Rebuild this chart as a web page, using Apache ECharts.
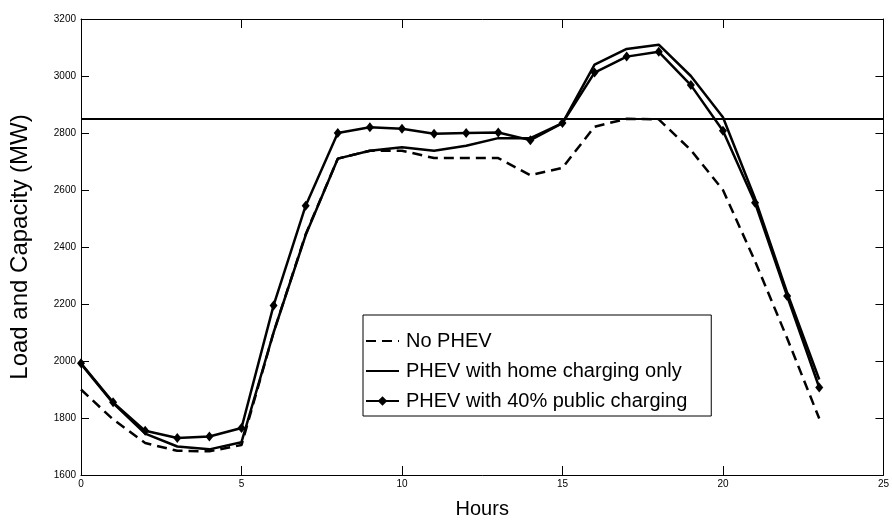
<!DOCTYPE html>
<html>
<head>
<meta charset="utf-8">
<script src="https://cdn.jsdelivr.net/npm/echarts@6/dist/echarts.min.js"></script>
<style>
  html, body { margin: 0; padding: 0; background: #fff; }
  #chart { width: 892px; height: 524px; }
</style>
</head>
<body>
<div id="chart"></div>
<script>
// Hourly system load (MW) for three charging scenarios
const hours = [0,1,2,3,4,5,6,7,8,9,10,11,12,13,14,15,16,17,18,19,20,21,22,23];
const noPhev = [1900,1795,1712,1685,1683,1705,2100,2445,2710,2738,2738,2712,2712,2712,2652,2678,2822,2850,2848,2740,2600,2350,2080,1798];
const homeCharging = [1990,1852,1745,1700,1690,1715,2100,2442,2710,2738,2750,2738,2755,2782,2782,2835,3040,3095,3110,3000,2855,2570,2240,1935];
const publicCharging = [1992,1855,1755,1730,1735,1765,2195,2545,2800,2820,2815,2797,2800,2802,2775,2835,3012,3068,3085,2968,2808,2555,2228,1907];
// Generation capacity limit (MW)
const capacity = 2850;

const seriesNames = ['No PHEV', 'PHEV with home charging only', 'PHEV with 40% public charging'];
const pairs = vals => hours.map((h, i) => [h, vals[i]]);

const tickFont = { fontFamily: 'Liberation Sans, Arial, sans-serif', fontSize: 10, color: '#000', formatter: v => String(v) };
const axisLine = { show: true, onZero: false, lineStyle: { color: '#000', width: 1 } };

const chart = echarts.init(document.getElementById('chart'), null, { renderer: 'canvas' });
chart.setOption({
  animation: false,
  backgroundColor: '#fff',
  grid: { left: 79, right: 5, top: 19, bottom: 49, containLabel: false },
  legend: {
    left: 363, top: 315,
    orient: 'vertical',
    data: [
      { name: seriesNames[0], itemStyle: { opacity: 0 } },
      { name: seriesNames[1], itemStyle: { opacity: 0 } },
      { name: seriesNames[2] }
    ],
    backgroundColor: '#fff',
    borderColor: '#000', borderWidth: 1,
    padding: [16, 24, 5, 2],
    itemWidth: 33, itemHeight: 12, itemGap: 10,
    textStyle: { fontFamily: 'Liberation Sans, Arial, sans-serif', fontSize: 20, color: '#000', padding: [0, 0, 0, 2] }
  },
  xAxis: [{
    type: 'value', min: 0, max: 25, interval: 5,
    name: 'Hours', nameLocation: 'middle', nameGap: 24,
    nameTextStyle: { fontFamily: 'Liberation Sans, Arial, sans-serif', fontSize: 20, color: '#000' },
    axisLine: axisLine,
    axisTick: { show: true, inside: true, length: 9, lineStyle: { color: '#000' } },
    axisLabel: Object.assign({ margin: 4 }, tickFont),
    splitLine: { show: false }
  }, {
    type: 'value', position: 'top', min: 0, max: 25, interval: 5,
    axisLine: axisLine,
    axisTick: { show: true, inside: true, length: 9, lineStyle: { color: '#000' } },
    axisLabel: { show: false },
    splitLine: { show: false }
  }],
  yAxis: [{
    type: 'value', min: 1600, max: 3200, interval: 200,
    name: 'Load and Capacity (MW)', nameLocation: 'middle', nameGap: 49,
    nameTextStyle: { fontFamily: 'Liberation Sans, Arial, sans-serif', fontSize: 24, color: '#000' },
    axisLine: axisLine,
    axisTick: { show: true, inside: true, length: 8, lineStyle: { color: '#000' } },
    axisLabel: Object.assign({ margin: 5 }, tickFont),
    splitLine: { show: false }
  }, {
    type: 'value', position: 'right', min: 1600, max: 3200, interval: 200,
    axisLine: axisLine,
    axisTick: { show: true, inside: true, length: 8, lineStyle: { color: '#000' } },
    axisLabel: { show: false },
    splitLine: { show: false }
  }],
  series: [{
    name: seriesNames[0], type: 'line', data: pairs(noPhev),
    symbol: 'none', color: '#000',
    lineStyle: { color: '#000', width: 2.5, type: [10, 6] },
    markLine: {
      silent: true, symbol: 'none', label: { show: false },
      lineStyle: { color: '#000', width: 2, type: 'solid' },
      data: [{ yAxis: capacity }]
    }
  }, {
    name: seriesNames[1], type: 'line', data: pairs(homeCharging),
    symbol: 'none', color: '#000',
    lineStyle: { color: '#000', width: 2.5 }
  }, {
    name: seriesNames[2], type: 'line', data: pairs(publicCharging),
    symbol: 'diamond', symbolSize: [8, 10], color: '#000',
    itemStyle: { color: '#000' },
    lineStyle: { color: '#000', width: 2.5 }
  }]
});
</script>
</body>
</html>
